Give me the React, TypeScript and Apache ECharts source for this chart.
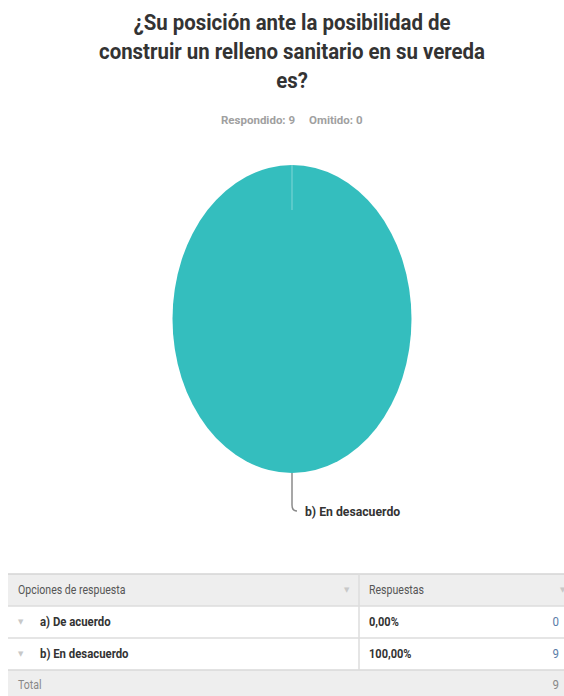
import React, { useEffect, useRef } from "react";
import * as echarts from "echarts";

const TITLE_LINES = [
  "¿Su posición ante la posibilidad de",
  "construir un relleno sanitario en su vereda",
  "es?",
];
const RESPONDED = 9;
const OMITTED = 0;
const CATEGORIES = ["a) De acuerdo", "b) En desacuerdo"];
const VALUES = [0, 9];
const TABLE_HEADERS = ["Opciones de respuesta", "Respuestas"];
const TOTAL_LABEL = "Total";

const FONT = '"Liberation Sans Narrow", "Arial Narrow", "Roboto", "Liberation Sans", sans-serif';
const PIE_COLOR = "#34bebe";

function fmtPct(v: number, total: number) {
  return ((v / total) * 100).toFixed(2).replace(".", ",") + "%";
}

function txt(text: string, x: number, y: number, style: any, scaleX = 1) {
  return {
    type: "text",
    x,
    y,
    scaleX,
    style: {
      text,
      x: 0,
      y: 0,
      verticalAlign: "middle",
      fontFamily: FONT,
      ...style,
    },
  };
}

export default function App() {
  const ref = useRef<HTMLDivElement>(null);
  useEffect(() => {
    document.body.style.margin = "0";
    const chart = echarts.init(ref.current!, null, { renderer: "svg" });
    const total = VALUES.reduce((a, b) => a + b, 0);
    const cx = 292, cy = 319, rx = 119.5, ry = 154;

    const pt = (ang: number, kx = rx, ky = ry) => [
      cx + kx * Math.sin(ang),
      cy - ky * Math.cos(ang),
    ];

    const renderItem = (params: any, api: any) => {
      const i = params.dataIndex;
      const v = api.value(1);
      let before = 0;
      for (let k = 0; k < i; k++) before += VALUES[k];
      const a0 = (before / total) * Math.PI * 2;
      const a1 = ((before + v) / total) * Math.PI * 2;
      const children: any[] = [];
      if (v <= 0) {
        const p0 = pt(a0);
        const p1 = pt(a0, rx - 45 * (rx / ry), ry - 45);
        children.push({
          type: "line",
          shape: { x1: p0[0], y1: p0[1], x2: p1[0], y2: p1[1] },
          style: { stroke: "rgba(255,255,255,0.25)", lineWidth: 1.5 },
          z2: 10,
        });
        return { type: "group", children };
      }
      let d: string;
      if (a1 - a0 >= Math.PI * 2 - 1e-9) {
        d = `M${cx} ${cy - ry} A${rx} ${ry} 0 1 1 ${cx} ${cy + ry} A${rx} ${ry} 0 1 1 ${cx} ${cy - ry} Z`;
      } else {
        const s = pt(a0), e = pt(a1);
        const large = a1 - a0 > Math.PI ? 1 : 0;
        d = `M${cx} ${cy} L${s[0]} ${s[1]} A${rx} ${ry} 0 ${large} 1 ${e[0]} ${e[1]} Z`;
      }
      children.push({ type: "path", shape: { pathData: d }, style: { fill: PIE_COLOR } });
      const am = (a0 + a1) / 2;
      const pe = pt(am);
      const lx = pe[0], ly = pe[1];
      children.push({
        type: "path",
        shape: {
          pathData: `M${lx} ${ly} L${lx} ${ly + 32} Q${lx} ${ly + 38} ${lx + 5} ${ly + 38}`,
        },
        style: { stroke: "#8a8a8a", lineWidth: 1.5, fill: "none" },
      });
      children.push({
        type: "text",
        x: lx + 13,
        y: ly + 38,
        scaleX: 0.94,
        style: {
          text: CATEGORIES[i],
          x: 0,
          y: 0,
          align: "left",
          verticalAlign: "middle",
          fontFamily: FONT,
          fontSize: 13,
          fontWeight: "bold",
          fill: "#333333",
        },
      });
      return { type: "group", children };
    };

    // Table graphics
    const tX = 8, tW = 570, colX = 359;
    const hTop = 574, hH = 32, rowH = 32;
    const g: any[] = [];
    const arrow = (x: number, y: number) =>
      txt("▼", x, y, { fontFamily: "DejaVu Sans", fontSize: 7, fill: "#c8c8c8" });
    g.push({ type: "rect", shape: { x: tX, y: hTop, width: tW, height: hH }, style: { fill: "#eeeeee" } });
    g.push({ type: "line", shape: { x1: tX, y1: hTop, x2: tX + tW, y2: hTop }, style: { stroke: "#d4d4d4", lineWidth: 1.5 } });
    g.push(txt(TABLE_HEADERS[0], 18, hTop + hH / 2, { fontSize: 12, fill: "#555555" }, 0.88));
    g.push(arrow(344, hTop + hH / 2));
    g.push(txt(TABLE_HEADERS[1], 369, hTop + hH / 2, { fontSize: 12, fill: "#555555" }, 0.88));
    g.push(arrow(560, hTop + hH / 2));
    CATEGORIES.forEach((c, i) => {
      const y = hTop + hH + i * rowH;
      g.push({ type: "rect", shape: { x: tX, y, width: tW, height: rowH }, style: { fill: "#ffffff" } });
      g.push({ type: "line", shape: { x1: tX, y1: y, x2: tX + tW, y2: y }, style: { stroke: "#dddddd", lineWidth: 1.5 } });
      const my = y + rowH / 2;
      g.push(arrow(18, my));
      g.push(txt(c, 40, my, { fontSize: 12.5, fontWeight: "bold", fill: "#333333" }, 0.91));
      g.push(txt(fmtPct(VALUES[i], total), 369, my, { fontSize: 12, fontWeight: "bold", fill: "#333333" }, 0.92));
      g.push(txt(String(VALUES[i]), 559, my, { fontSize: 12.5, align: "right", fill: "#5a7ca8" }, 0.92));
    });
    const totY = hTop + hH + CATEGORIES.length * rowH;
    g.push({ type: "rect", shape: { x: tX, y: totY, width: tW, height: 40 }, style: { fill: "#eeeeee" } });
    g.push({ type: "line", shape: { x1: tX, y1: totY, x2: tX + tW, y2: totY }, style: { stroke: "#d8d8d8", lineWidth: 1.5 } });
    g.push({ type: "line", shape: { x1: colX, y1: hTop, x2: colX, y2: totY }, style: { stroke: "#dddddd", lineWidth: 1.5 } });
    g.push(txt(TOTAL_LABEL, 18, totY + 15, { fontSize: 12, fill: "#888888" }, 0.88));
    g.push(txt(String(total), 559, totY + 15, { fontSize: 12.5, align: "right", fill: "#888888" }, 0.92));

    // Title and subtitle
    g.push({
      type: "text",
      x: 292,
      y: 8,
      scaleX: 0.928,
      style: {
        text: TITLE_LINES.join("\n"),
        x: 0,
        y: 0,
        align: "center",
        verticalAlign: "top",
        fontFamily: FONT,
        fontSize: 22,
        fontWeight: "bold",
        lineHeight: 29,
        fill: "#333333",
      },
    });
    g.push(txt(`Respondido: ${RESPONDED}`, 221, 120, { fontSize: 11.5, fontWeight: "bold", fill: "#a0a0a0" }));
    g.push(txt(`Omitido: ${OMITTED}`, 309, 120, { fontSize: 11.5, fontWeight: "bold", fill: "#a0a0a0" }));

    chart.setOption({
      animation: false,
      backgroundColor: "#ffffff",
      graphic: g,
      series: [
        {
          type: "custom",
          coordinateSystem: "none",
          renderItem,
          data: CATEGORIES.map((c, i) => ({ name: c, value: [i, VALUES[i]] })),
        },
      ],
    });
    return () => chart.dispose();
  }, []);
  return <div ref={ref} style={{ position: "fixed", left: 0, top: 0, width: 564, height: 696 }} />;
}
